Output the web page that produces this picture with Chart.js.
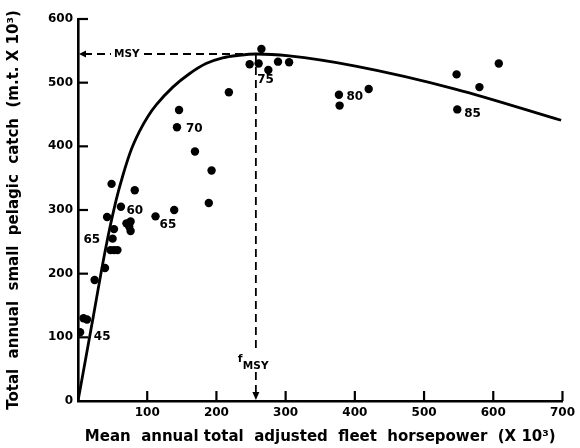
<!DOCTYPE html>
<html><head><meta charset="utf-8">
<script src="https://cdn.jsdelivr.net/npm/chart.js@4.4.0/dist/chart.umd.min.js"></script>
<style>html,body{margin:0;padding:0;background:#fff}#wrap{width:580px;height:448px;position:relative}</style>
</head><body><div id="wrap"><canvas id="c"></canvas></div>
<script>
// Observed annual catch vs. effort
const effortX = [3, 8, 13, 24, 39, 42, 48.5, 50, 52, 47, 52, 57, 62, 70, 74, 76, 76, 82, 112, 139, 143, 146, 169, 189, 193, 218, 248, 261, 265, 275, 289, 305, 377, 378, 420, 547, 548, 580, 608];
const catchY  = [108, 130, 128, 190, 209, 289, 341, 255, 270, 237, 237, 237, 305, 279, 274, 282, 267, 331, 290, 300, 430, 457, 392, 311, 362, 485, 529, 530, 553, 520, 533, 532, 481, 464, 490, 513, 458, 493, 530];
// Fitted production curve
const curveX = [0, 20, 40, 55, 65, 77, 89, 101, 113, 137, 161, 185, 209, 233, 257, 305, 401, 545, 698];
const curveY = [0, 120, 240, 315, 355, 395, 424, 447, 465, 493, 514, 530, 539, 543, 545, 542, 526, 490, 441];
// Year labels
const yearText = ['45', '65', '60', '65', '70', '75', '80', '85'];
const yearX = [35, 20, 82, 130, 168, 271, 400, 570];
const yearY = [101, 253, 299, 277, 428, 505, 477, 451];
// Reference values
const msyValue = 545;
const fmsyValue = 257;
const xTickValues = [0, 100, 200, 300, 400, 500, 600, 700];
const yTickValues = [0, 100, 200, 300, 400, 500, 600];

const FONT = '"DejaVu Sans", sans-serif';

const overlay = {
  id: 'overlay',
  afterDatasetsDraw(chart) {
    const ctx = chart.ctx;
    const xs = chart.scales.x, ys = chart.scales.y;
    const x0 = xs.getPixelForValue(0), y0 = ys.getPixelForValue(0);
    ctx.save();
    // inward tick marks
    ctx.strokeStyle = '#000'; ctx.lineWidth = 2.2;
    xTickValues.forEach(v => {
      if (v === 0) return;
      const px = xs.getPixelForValue(v);
      ctx.beginPath(); ctx.moveTo(px, y0); ctx.lineTo(px, y0 - 10); ctx.stroke();
    });
    yTickValues.forEach(v => {
      if (v === 0) return;
      const py = ys.getPixelForValue(v);
      ctx.beginPath(); ctx.moveTo(x0, py); ctx.lineTo(x0 + 10, py); ctx.stroke();
    });
    // MSY dashed line
    const my = ys.getPixelForValue(msyValue);
    const fx = xs.getPixelForValue(fmsyValue);
    ctx.lineWidth = 1.8;
    ctx.setLineDash([8, 5]);
    ctx.beginPath(); ctx.moveTo(x0 + 6, my); ctx.lineTo(x0 + 33, my); ctx.stroke();
    ctx.beginPath(); ctx.moveTo(x0 + 66, my); ctx.lineTo(fx, my); ctx.stroke();
    // fMSY dashed line
    const labY = 362;
    ctx.beginPath(); ctx.moveTo(fx, my); ctx.lineTo(fx, labY - 12); ctx.stroke();
    ctx.beginPath(); ctx.moveTo(fx, labY + 10); ctx.lineTo(fx, y0 - 6); ctx.stroke();
    ctx.setLineDash([]);
    // arrowheads
    ctx.fillStyle = '#000';
    ctx.beginPath(); ctx.moveTo(x0 + 1, my); ctx.lineTo(x0 + 8, my - 3.5); ctx.lineTo(x0 + 8, my + 3.5); ctx.closePath(); ctx.fill();
    ctx.beginPath(); ctx.moveTo(fx, y0 - 1); ctx.lineTo(fx - 3.5, y0 - 9); ctx.lineTo(fx + 3.5, y0 - 9); ctx.closePath(); ctx.fill();
    // MSY text
    ctx.font = 'bold 10.5px ' + FONT;
    ctx.textAlign = 'left'; ctx.textBaseline = 'middle';
    ctx.fillText('MSY', x0 + 36, my);
    // fMSY text
    ctx.font = 'bold 11px ' + FONT;
    ctx.fillText('f', fx - 18, labY - 3);
    ctx.font = 'bold 10.5px ' + FONT;
    ctx.fillText('MSY', fx - 13, labY + 4);
    // year labels
    ctx.font = 'bold 12px ' + FONT;
    ctx.textAlign = 'center';
    yearText.forEach((t, i) => {
      ctx.fillText(t, xs.getPixelForValue(yearX[i]), ys.getPixelForValue(yearY[i]));
    });
    ctx.restore();
  }
};

new Chart(document.getElementById('c'), {
  type: 'scatter',
  data: {
    datasets: [
      {
        label: 'Catch',
        data: effortX.map((x, i) => ({ x: x, y: catchY[i] })),
        backgroundColor: '#000', borderColor: '#000',
        pointRadius: 4.2, pointHoverRadius: 4.2, borderWidth: 0
      },
      {
        type: 'line',
        label: 'Curve',
        data: curveX.map((x, i) => ({ x: x, y: curveY[i] })),
        borderColor: '#000', borderWidth: 2.8,
        pointRadius: 0, fill: false,
        cubicInterpolationMode: 'monotone'
      }
    ]
  },
  options: {
    responsive: true, maintainAspectRatio: false, animation: false,
    events: [],
    layout: { padding: { top: 19, right: 16, left: 0, bottom: 0 } },
    plugins: { legend: { display: false }, tooltip: { enabled: false } },
    scales: {
      x: {
        type: 'linear', min: 0, max: 700,
        afterBuildTicks: s => { s.ticks = xTickValues.map(v => ({ value: v })); },
        afterFit: s => { s.height = 47; },
        grid: { display: false, drawTicks: false, tickLength: 0 },
        border: { display: true, color: '#000', width: 2.6 },
        ticks: {
          color: '#000', padding: 5,
          font: { family: FONT, size: 12, weight: 'bold' },
          callback: v => (v === 0 ? '' : String(v))
        },
        title: {
          display: true, text: 'Mean  annual total  adjusted  fleet  horsepower  (X 10³)',
          color: '#000', font: { family: FONT, size: 15, weight: 'bold' },
          padding: { top: 0, bottom: 2 }
        }
      },
      y: {
        type: 'linear', min: 0, max: 600,
        afterBuildTicks: s => { s.ticks = yTickValues.map(v => ({ value: v })); },
        afterFit: s => { s.width = 78; },
        grid: { display: false, drawTicks: false, tickLength: 0 },
        border: { display: true, color: '#000', width: 2.6 },
        ticks: {
          color: '#000', padding: 5,
          font: { family: FONT, size: 12, weight: 'bold' }
        },
        title: {
          display: true, text: 'Total  annual  small  pelagic  catch  (m.t. X 10³)',
          color: '#000', font: { family: FONT, size: 15, weight: 'bold' },
          padding: { top: 5, bottom: 0 }
        }
      }
    }
  },
  plugins: [overlay]
});
</script>
</body></html>
